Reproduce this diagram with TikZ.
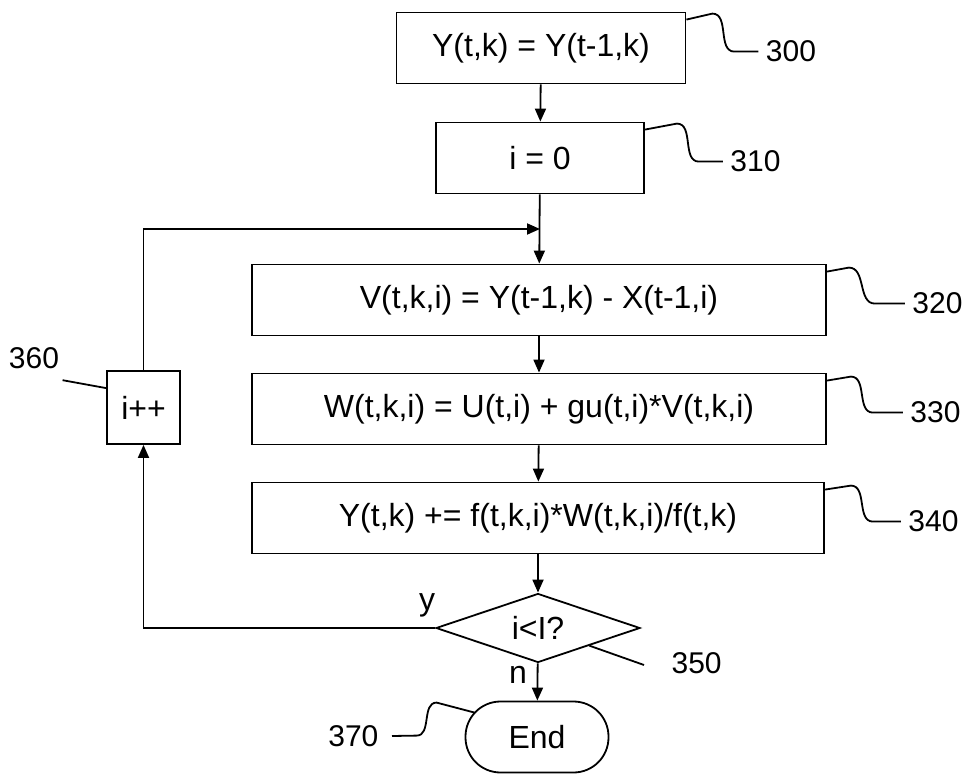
\documentclass[tikz,border=0pt]{standalone}
\usepackage{fontspec}
\setmainfont{Liberation Sans}
\usetikzlibrary{arrows.meta}
\usetikzlibrary{shapes.geometric}

\begin{document}
\begin{tikzpicture}[x=0.5pt,y=-0.5pt,line width=0.9pt,
    every node/.style={font=\fontsize{16}{19}\selectfont},
    stepbox/.style={draw,rectangle,minimum height=35.5pt,inner sep=0pt},
    flow/.style={-{Triangle[length=6.5pt,width=5.5pt]}},
    refnum/.style={anchor=west,font=\fontsize{15}{18}\selectfont}]
\useasboundingbox (0,0) rectangle (963,774);
\node[stepbox,minimum width=144.5pt] (b300) at (541,48) {Y(t,k) = Y(t-1,k)};
\node[stepbox,minimum width=104pt]   (b310) at (540,158) {i = 0};
\node[stepbox,minimum width=287pt]   (b320) at (539,300) {V(t,k,i) = Y(t-1,k) - X(t-1,i)};
\node[stepbox,minimum width=287pt]   (b330) at (539,409) {W(t,k,i) = U(t,i) + gu(t,i)*V(t,k,i)};
\node[stepbox,minimum width=286pt]   (b340) at (538,518) {Y(t,k) += f(t,k,i)*W(t,k,i)/f(t,k)};
\node[draw,diamond,aspect=3,minimum width=102pt,minimum height=34.5pt,inner sep=0pt] (d350) at (538,628) {i<I?};
\node[draw,rounded corners=17.5pt,minimum width=71.5pt,minimum height=35.5pt] (e370) at (537,737) {End};
\node[stepbox,minimum width=36.5pt,minimum height=36.5pt] (i360) at (143.5,407.5) {i++};
\coordinate (join) at (540,229);
% flow
\draw[flow] (b300) -- (b310);
\draw[flow] (b310) -- (b320);
\draw[flow] (b320) -- (b330);
\draw[flow] (b330) -- (b340);
\draw[flow] (b340) -- (d350);
\draw[flow] (d350) -- (e370);
\draw[flow] (d350.west) -| (i360.south);
\draw[flow] (i360.north) |- (join);
\node at (427,605) {y};
\node at (518,675) {n};
% reference numbers
\node[refnum] (l300) at ([xshift=36pt,yshift=-20pt]b300.north east) {300};
\node[refnum] (l310) at ([xshift=39pt,yshift=-20pt]b310.north east) {310};
\node[refnum] (l320) at ([xshift=39pt,yshift=-20pt]b320.north east) {320};
\node[refnum] (l330) at ([xshift=38pt,yshift=-20pt]b330.north east) {330};
\node[refnum] (l340) at ([xshift=38pt,yshift=-20pt]b340.north east) {340};
\node[refnum] (l350) at (664,663) {350};
\node[refnum,anchor=east] (l370) at (386,736) {370};
\node[refnum,anchor=center] (l360) at (34,358) {360};
\draw ([yshift=-4pt]b300.north east) -- ++(13pt,3pt) to[out=0,in=180] ++(11pt,-19pt) -- (l300.west);
\draw ([yshift=-4pt]b310.north east) -- ++(16pt,3pt) to[out=0,in=180] ++(11pt,-19pt) -- (l310.west);
\draw ([yshift=-4pt]b320.north east) -- ++(11pt,2pt) to[out=0,in=180] ++(13pt,-18pt) -- (l320.west);
\draw ([yshift=-4pt]b330.north east) -- ++(12pt,2pt) to[out=0,in=180] ++(11pt,-18pt) -- (l330.west);
\draw ([yshift=-4pt]b340.north east) -- ++(13pt,2pt) to[out=0,in=180] ++(11pt,-18pt) -- (l340.west);
\draw (d350.south east) -- ([xshift=-10pt,yshift=-1pt]l350.west);
\draw ([xshift=5pt,yshift=-6pt]e370.north west) -- ++(-19pt,5pt) to[out=180,in=0] ++(-10pt,-16.5pt) -- ([xshift=3pt]l370.east);
\draw ([yshift=-9pt]i360.north west) -- ([xshift=-2pt,yshift=-2pt]l360.south east);
\end{tikzpicture}
\end{document}
